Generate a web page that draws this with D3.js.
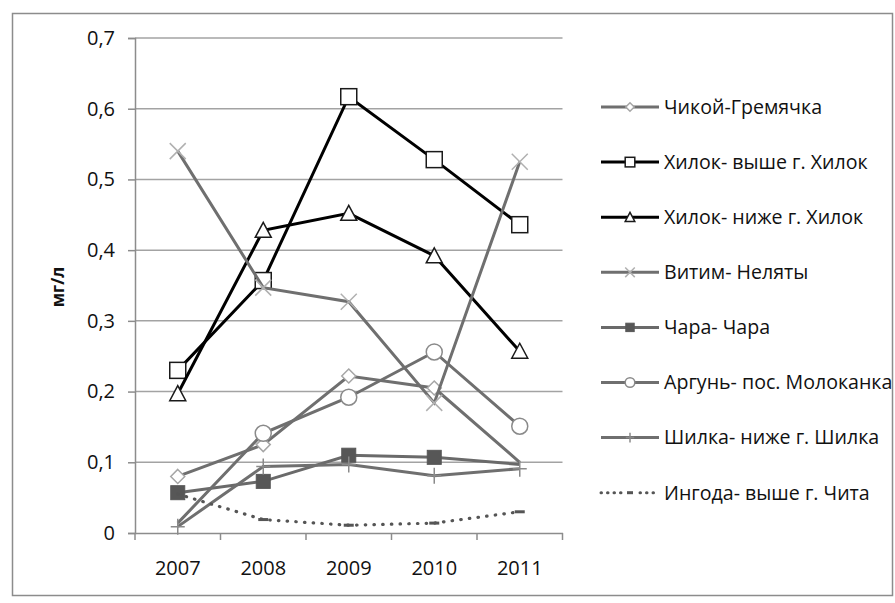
<!DOCTYPE html>
<html>
<head>
<meta charset="utf-8">
<script src="https://cdn.jsdelivr.net/npm/d3@7"></script>
<style>
  body { margin: 0; background: #fff; }
  text { font-family: "Open Sans", "Noto Sans", sans-serif; fill: #111; }
  .tick-label { font-size: 20px; }
  .legend-label { font-size: 19.6px; }
  .axis-title { font-size: 17px; font-weight: bold; }
</style>
</head>
<body>
<div id="chart"></div>
<script>
const width = 895, height = 603;

const years = ["2007", "2008", "2009", "2010", "2011"];
const yTicks = [0, 0.1, 0.2, 0.3, 0.4, 0.5, 0.6, 0.7];

const seriesNames = [
  "Чикой-Гремячка",
  "Хилок- выше г. Хилок",
  "Хилок- ниже г. Хилок",
  "Витим- Неляты",
  "Чара- Чара",
  "Аргунь- пос. Молоканка",
  "Шилка- ниже г. Шилка",
  "Ингода- выше г. Чита"
];

const chikoi      = [0.080, 0.125, 0.222, 0.205, 0.100];
const khilokAbove = [0.230, 0.357, 0.617, 0.528, 0.436];
const khilokBelow = [0.197, 0.428, 0.452, 0.392, 0.257];
const vitim       = [0.540, 0.347, 0.327, 0.184, 0.525];
const chara       = [0.057, 0.073, 0.110, 0.107, 0.097];
const argun       = [0.014, 0.141, 0.192, 0.256, 0.151];
const shilka      = [0.009, 0.094, 0.097, 0.081, 0.091];
const ingoda      = [0.055, 0.019, 0.011, 0.014, 0.030];

const seriesValues = [chikoi, khilokAbove, khilokBelow, vitim, chara, argun, shilka, ingoda];

// look of each series, same order as seriesNames
// hide: point indexes where the original shows no marker
const styles = [
  { stroke: "#6f6f6f", marker: "diamond", mFill: "#fff", mStroke: "#a6a6a6", hide: [4] },
  { stroke: "#000",    marker: "square",  mFill: "#fff", mStroke: "#1a1a1a" },
  { stroke: "#000",    marker: "triangle", mFill: "#fff", mStroke: "#1a1a1a" },
  { stroke: "#6f6f6f", marker: "x",       mFill: "none", mStroke: "#b0b0b0" },
  { stroke: "#6a6a6a", marker: "fsquare", mFill: "#575757", mStroke: "#575757", hide: [4] },
  { stroke: "#6f6f6f", marker: "circle",  mFill: "#fff", mStroke: "#8a8a8a", hide: [0] },
  { stroke: "#6f6f6f", marker: "plus",    mFill: "none", mStroke: "#8a8a8a" },
  { stroke: "#555",    marker: "dash",    mFill: "#555", mStroke: "#555", dots: true, hide: [0] }
];

const plot = { left: 135, right: 562.5, top: 38, bottom: 533 };

const svg = d3.select("#chart")
  .append("svg")
  .attr("width", width)
  .attr("height", height)
  .attr("viewBox", `0 0 ${width} ${height}`);

svg.append("rect")
  .attr("x", 12.5).attr("y", 13.5)
  .attr("width", 880).attr("height", 582)
  .attr("fill", "#fff")
  .attr("stroke", "#8c8c8c")
  .attr("stroke-width", 1.5);

const xScale = d3.scaleBand().domain(years).range([plot.left, plot.right]);
const yScale = d3.scaleLinear().domain([0, 0.7]).range([plot.bottom, plot.top]);
const cx = d => xScale(d) + xScale.bandwidth() / 2;

const commaFmt = d3.formatLocale({ decimal: ",", thousands: " ", grouping: [3], currency: ["", ""] }).format(".1f");
const yFmt = d => d === 0 ? "0" : commaFmt(d);

// gridlines
svg.append("g")
  .selectAll("line")
  .data(yTicks.slice(1))
  .join("line")
  .attr("x1", plot.left).attr("x2", plot.right)
  .attr("y1", d => yScale(d)).attr("y2", d => yScale(d))
  .attr("stroke", "#a3a3a3")
  .attr("stroke-width", 1.5);

// left axis
const leftAxisG = svg.append("g")
  .attr("transform", `translate(${plot.left},0)`)
  .call(d3.axisLeft(yScale).tickValues(yTicks).tickFormat(yFmt).tickSize(7).tickPadding(13));
leftAxisG.select(".domain").attr("stroke", "#8c8c8c").attr("stroke-width", 1.5);
leftAxisG.selectAll(".tick line").attr("stroke", "#8c8c8c").attr("stroke-width", 1.5);
leftAxisG.selectAll(".tick text").attr("class", "tick-label").attr("font-family", null).attr("font-size", null);

// bottom axis, ticks sit on band edges
const bottomAxisG = svg.append("g")
  .attr("transform", `translate(0,${plot.bottom})`)
  .call(d3.axisBottom(xScale).tickSize(0).tickPadding(28));
bottomAxisG.select(".domain").attr("stroke", "#8c8c8c").attr("stroke-width", 1.5);
bottomAxisG.selectAll(".tick text").attr("class", "tick-label").attr("font-family", null).attr("font-size", null);
bottomAxisG.selectAll(".edge")
  .data(years.map(d => xScale(d)).concat([plot.right]))
  .join("line")
  .attr("class", "edge")
  .attr("x1", d => d).attr("x2", d => d)
  .attr("y1", 0).attr("y2", 7)
  .attr("stroke", "#8c8c8c")
  .attr("stroke-width", 1.5);

svg.append("text")
  .attr("class", "axis-title")
  .attr("text-anchor", "middle")
  .attr("transform", "translate(64,287) rotate(-90)")
  .text("мг/л");

function drawMarker(g, type, st, s) {
  if (type === "diamond") {
    g.append("path").attr("d", `M0,${-7 * s}L${7 * s},0L0,${7 * s}L${-7 * s},0Z`)
      .attr("fill", st.mFill).attr("stroke", st.mStroke).attr("stroke-width", 1.5);
  } else if (type === "square") {
    g.append("rect").attr("x", -8 * s).attr("y", -8 * s).attr("width", 16 * s).attr("height", 16 * s)
      .attr("fill", st.mFill).attr("stroke", st.mStroke).attr("stroke-width", 1.5);
  } else if (type === "fsquare") {
    g.append("rect").attr("x", -7 * s).attr("y", -7 * s).attr("width", 14 * s).attr("height", 14 * s)
      .attr("fill", st.mFill).attr("stroke", st.mStroke).attr("stroke-width", 1);
  } else if (type === "triangle") {
    g.append("path").attr("d", `M0,${-8 * s}L${8 * s},${7 * s}L${-8 * s},${7 * s}Z`)
      .attr("fill", st.mFill).attr("stroke", st.mStroke).attr("stroke-width", 1.5);
  } else if (type === "circle") {
    g.append("circle").attr("r", 8 * s)
      .attr("fill", st.mFill).attr("stroke", st.mStroke).attr("stroke-width", 1.5);
  } else if (type === "x") {
    g.append("path").attr("d", `M${-8 * s},${-8 * s}L${8 * s},${8 * s}M${8 * s},${-8 * s}L${-8 * s},${8 * s}`)
      .attr("stroke", st.mStroke).attr("stroke-width", 1.5);
  } else if (type === "plus") {
    g.append("path").attr("d", `M0,${-8 * s}L0,${8 * s}M${-7 * s},0L${7 * s},0`)
      .attr("stroke", st.mStroke).attr("stroke-width", 1.5);
  } else if (type === "dash") {
    g.append("rect").attr("x", -5 * s).attr("y", -1.5).attr("width", 10 * s).attr("height", 3)
      .attr("fill", st.mFill);
  }
}

const line = d3.line()
  .x((d, i) => cx(years[i]))
  .y(d => yScale(d));

const seriesG = svg.append("g");
seriesValues.forEach((vals, si) => {
  const st = styles[si];
  const hide = st.hide || [];
  const g = seriesG.append("g");
  g.append("path")
    .attr("d", line(vals))
    .attr("fill", "none")
    .attr("stroke", st.stroke)
    .attr("stroke-width", st.dots ? 3.2 : 3)
    .attr("stroke-linecap", st.dots ? "round" : "butt")
    .attr("stroke-dasharray", st.dots ? "0.5,8.2" : null);
  g.selectAll(".m")
    .data(vals.map((v, i) => ({ v, i })).filter(d => !hide.includes(d.i)))
    .join("g")
    .attr("class", "m")
    .attr("transform", d => `translate(${cx(years[d.i])},${yScale(d.v)})`)
    .each(function () { drawMarker(d3.select(this), st.marker, st, 1); });
});

// legend
const legend = svg.append("g");
seriesNames.forEach((name, i) => {
  const st = styles[i];
  const y = 107 + i * 55.1;
  const row = legend.append("g").attr("transform", `translate(0,${y})`);
  row.append("line")
    .attr("x1", 601).attr("x2", 659)
    .attr("y1", 0).attr("y2", 0)
    .attr("stroke", st.stroke)
    .attr("stroke-width", 3)
    .attr("stroke-linecap", st.dots ? "round" : "butt")
    .attr("stroke-dasharray", st.dots ? "0.5,6" : null);
  const mg = row.append("g").attr("transform", "translate(630,0)");
  if (st.dots) {
    mg.append("rect").attr("x", -7).attr("y", -2.5).attr("width", 14).attr("height", 5).attr("fill", "#fff");
  }
  drawMarker(mg, st.marker, st, 0.6);
  row.append("text")
    .attr("class", "legend-label")
    .attr("x", 664)
    .attr("y", 0)
    .attr("dy", "0.35em")
    .text(name);
});
</script>
</body>
</html>
